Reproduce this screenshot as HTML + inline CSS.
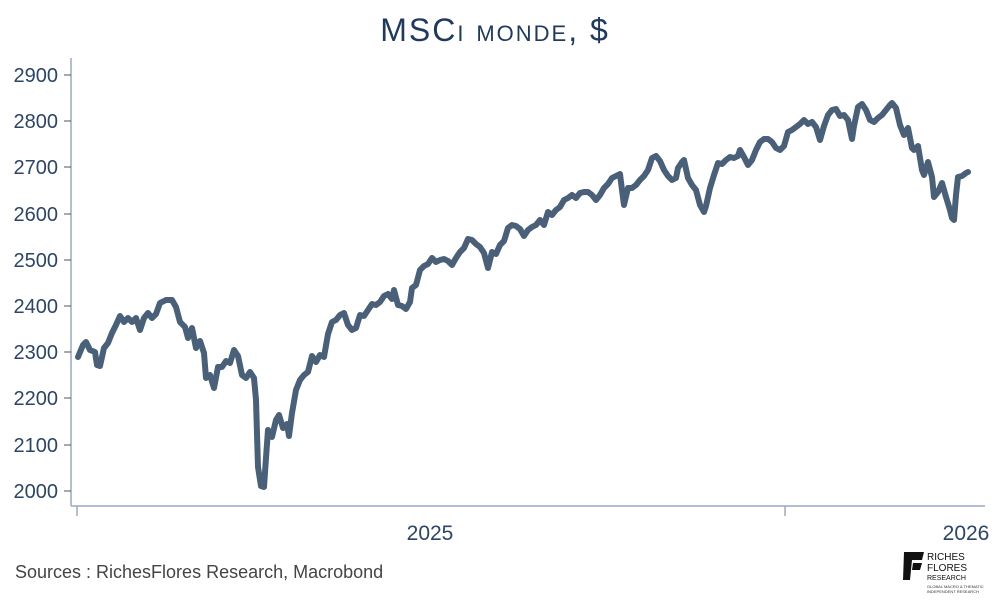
<!DOCTYPE html>
<html><head><meta charset="utf-8"><style>
body{margin:0;width:1000px;height:600px;background:#fff;overflow:hidden;font-family:"Liberation Sans",sans-serif}
</style></head><body>
<svg width="1000" height="600" viewBox="0 0 1000 600" xmlns="http://www.w3.org/2000/svg">
<text x="495" y="41" text-anchor="middle" font-family="Liberation Sans, sans-serif" font-size="32" fill="#1f3a5c" letter-spacing="2" style="font-variant:small-caps">MSCi monde, $</text>
<g stroke="#9aaac0" stroke-width="1.5" fill="none">
<line x1="71" y1="58" x2="71" y2="506"/>
<line x1="71" y1="506" x2="985" y2="506"/>
<line x1="77" y1="506" x2="77" y2="516"/>
<line x1="785" y1="506" x2="785" y2="516"/>
</g>
<g stroke="#555" stroke-width="1">
<line x1="64" y1="75" x2="71" y2="75"/><line x1="64" y1="121" x2="71" y2="121"/><line x1="64" y1="167" x2="71" y2="167"/><line x1="64" y1="214" x2="71" y2="214"/><line x1="64" y1="260" x2="71" y2="260"/><line x1="64" y1="306" x2="71" y2="306"/><line x1="64" y1="352" x2="71" y2="352"/><line x1="64" y1="398" x2="71" y2="398"/><line x1="64" y1="445" x2="71" y2="445"/><line x1="64" y1="491" x2="71" y2="491"/>
</g>
<g font-family="Liberation Sans Narrow, Liberation Sans, sans-serif" font-size="20" fill="#2d4565" text-anchor="end">
<text x="58" y="82">2900</text><text x="58" y="128">2800</text><text x="58" y="174">2700</text><text x="58" y="221">2600</text><text x="58" y="267">2500</text><text x="58" y="313">2400</text><text x="58" y="359">2300</text><text x="58" y="405">2200</text><text x="58" y="452">2100</text><text x="58" y="498">2000</text>
</g>
<g font-family="Liberation Sans Narrow, Liberation Sans, sans-serif" font-size="21" fill="#2d4565" text-anchor="middle">
<text x="430" y="540">2025</text><text x="966" y="540">2026</text>
</g>
<polyline fill="none" stroke="#4a6078" stroke-width="6" stroke-linejoin="round" stroke-linecap="round" points="78,357 83,345 86,342 90,350 95,352 97,365 100,366 104,348 108,343 112,333 116,325 120,316 124,322 128,318 132,322 136,318 140,330 144,318 148,313 152,318 156,314 160,303 166,300 172,300 176,307 180,322 185,327 188,338 192,328 196,348 200,341 204,353 206,378 210,375 214,388 218,367 222,367 226,361 230,363 234,350 238,356 242,375 246,378 250,372 254,378 256,400 258,467 261,486 264,487 266,458 268,430 272,437 276,420 279,415 283,428 287,424 289,436 292,413 296,390 300,380 304,375 308,372 312,356 316,362 320,355 324,357 328,334 332,322 336,320 340,315 344,313 348,325 352,330 356,328 360,315 364,316 368,310 372,304 376,305 380,302 384,296 388,294 392,299 394,290 398,305 402,306 406,309 410,302 412,288 416,285 420,270 424,266 428,264 432,258 436,262 440,260 444,259 448,261 452,265 456,258 460,252 464,248 468,239 472,240 476,244 480,247 484,253 488,268 492,252 496,254 500,245 504,241 508,228 512,225 516,226 520,229 524,236 528,230 532,227 536,225 540,220 544,225 548,212 552,215 556,210 560,207 564,200 568,198 572,195 576,198 580,193 584,192 588,192 592,195 596,200 600,195 604,188 608,184 612,178 616,176 620,174 622,190 624,205 628,188 632,188 636,185 640,180 644,176 648,170 652,158 656,156 660,161 664,170 668,176 672,180 676,178 678,168 682,162 684,160 688,178 692,185 696,190 700,205 704,212 706,206 710,188 714,175 718,163 722,164 726,160 730,157 734,158 738,156 740,150 744,157 748,165 752,160 756,150 760,142 764,139 768,139 772,142 776,148 780,150 784,146 788,132 792,130 796,127 800,124 804,120 808,124 812,122 816,127 820,140 824,126 828,115 832,110 836,109 840,116 844,115 848,120 852,139 854,126 858,107 862,104 866,110 870,120 874,122 878,118 882,115 886,110 890,105 892,103 896,108 900,125 904,135 908,128 912,148 914,150 918,146 922,170 924,175 928,162 932,177 934,197 938,192 942,183 946,197 950,210 952,218 954,220 956,195 958,177 962,176 966,173 968,172"/>
<text x="15" y="578" font-family="Liberation Sans Narrow, Liberation Sans, sans-serif" font-size="18" fill="#444">Sources : RichesFlores Research, Macrobond</text>
<g>
<polygon points="904,552 924,552 922,560 912,560 910,580 903,580" fill="#111"/>
<polygon points="913,563 922,563 920,570 912,570" fill="#111"/>
<text x="927" y="560" font-family="Liberation Sans, sans-serif" font-size="10" fill="#111">RICHES</text>
<text x="927" y="571" font-family="Liberation Sans, sans-serif" font-size="10" fill="#111">FLORES</text>
<text x="927" y="580" font-family="Liberation Sans, sans-serif" font-size="7" fill="#111">RESEARCH</text>
<text x="927" y="588" font-family="Liberation Sans, sans-serif" font-size="4" fill="#333">GLOBAL MACRO &amp; THEMATIC</text>
<text x="927" y="593" font-family="Liberation Sans, sans-serif" font-size="4" fill="#333">INDEPENDENT RESEARCH</text>
</g>
</svg>
</body></html>
